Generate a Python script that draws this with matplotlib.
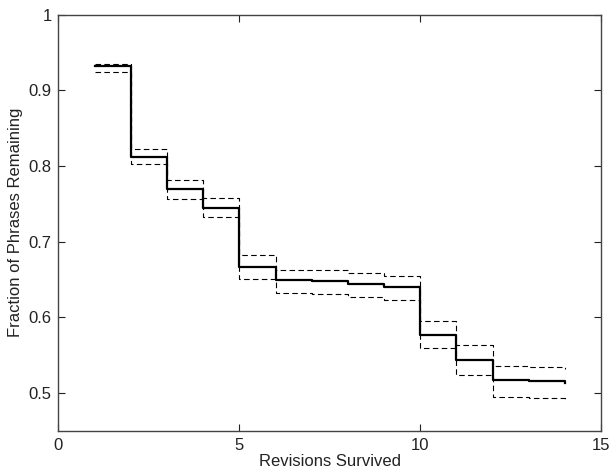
import matplotlib
matplotlib.use("Agg")
import matplotlib.pyplot as plt

revisions = [1, 2, 3, 4, 5, 6, 7, 8, 9, 10, 11, 12, 13, 14]
fraction = [0.932, 0.812, 0.770, 0.745, 0.667, 0.650, 0.648, 0.644, 0.640,
            0.577, 0.544, 0.517, 0.516, 0.513]
upper = [0.935, 0.822, 0.781, 0.758, 0.682, 0.663, 0.663, 0.659, 0.655,
         0.595, 0.564, 0.536, 0.535, 0.532]
lower = [0.924, 0.803, 0.757, 0.732, 0.651, 0.632, 0.631, 0.627, 0.623,
         0.559, 0.524, 0.495, 0.494, 0.490]

plt.rcParams['font.family'] = ['Liberation Sans', 'DejaVu Sans']

fig = plt.figure(figsize=(6.09, 4.72), dpi=100)
ax = fig.add_axes([0.096, 0.087, 0.891, 0.882])

ax.step(revisions, upper, where='post', color='black', lw=0.8,
        linestyle=(0, (5, 3)))
ax.step(revisions, lower, where='post', color='black', lw=0.8,
        linestyle=(0, (5, 3)))
ax.step(revisions, fraction, where='post', color='black', lw=1.6)

ax.set_xlim(0, 15)
ax.set_ylim(0.45, 1)
ax.set_xticks([0, 5, 10, 15])
ax.set_xticklabels(['0', '5', '10', '15'])
ax.set_yticks([0.5, 0.6, 0.7, 0.8, 0.9, 1.0])
ax.set_yticklabels(['0.5', '0.6', '0.7', '0.8', '0.9', '1'])
ax.tick_params(direction='in', top=True, right=True, length=5,
               labelsize=12, colors='#222222', pad=5)
for s in ax.spines.values():
    s.set_color('#444444')
    s.set_linewidth(1.0)

ax.set_xlabel('Revisions Survived', fontsize=12, color='#222222', labelpad=1)
ax.set_ylabel('Fraction of Phrases Remaining', fontsize=12, color='#222222',
              labelpad=4)

fig.savefig('out.png', dpi=100)
